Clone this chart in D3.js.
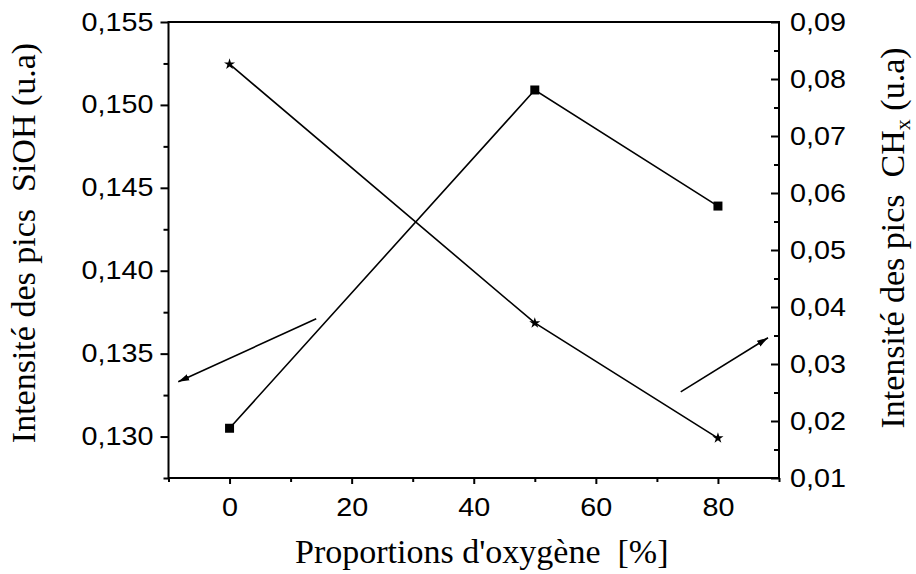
<!DOCTYPE html>
<html>
<head>
<meta charset="utf-8">
<script src="https://cdn.jsdelivr.net/npm/d3@7/dist/d3.min.js"></script>
<style>
  html, body { margin: 0; padding: 0; background: #fff; }
  svg { display: block; }
  .tick text { font-family: "Liberation Sans", Arial, sans-serif; font-size: 25px; fill: #000; }
  .title { font-family: "Liberation Serif", "Times New Roman", serif; font-size: 34px; fill: #000; white-space: pre; }
</style>
</head>
<body>
<svg id="chart" width="916" height="574"></svg>
<script>
// Oxygen proportion in the gas mixture (%)
const oxygen = [0, 50, 80];
// SiOH peak intensity (left axis, a.u.)
const siohValues = [0.1305, 0.1509, 0.1439];
// CHx peak intensity (right axis, a.u.)
const chxValues = [0.0826, 0.0372, 0.0170];

// Axis ticks
const xMajorTicks = [0, 20, 40, 60, 80];
const xMinorTicks = [-10, 10, 30, 50, 70, 90];
const yLeftMajorTicks = [0.130, 0.135, 0.140, 0.145, 0.150, 0.155];
const yLeftMinorTicks = [0.1275, 0.1325, 0.1375, 0.1425, 0.1475, 0.1525];
const yRightMajorTicks = [0.01, 0.02, 0.03, 0.04, 0.05, 0.06, 0.07, 0.08, 0.09];
const yRightMinorTicks = [0.015, 0.025, 0.035, 0.045, 0.055, 0.065, 0.075, 0.085];

// Pointer arrows telling which series belongs to which axis (data units)
const leftArrow = { from: [14.2, 0.1371], to: [-8.4, 0.1333] };
const rightArrow = { from: [73.9, 0.0251], to: [88.2, 0.0346] };

const frame = { left: 168.5, right: 779, top: 22, bottom: 478 };
const svg = d3.select("#chart");

const x = d3.scaleLinear().domain([-10, 90]).range([frame.left, frame.right]);
const yL = d3.scaleLinear().domain([0.1275, 0.155]).range([frame.bottom, frame.top]);
const yR = d3.scaleLinear().domain([0.01, 0.09]).range([frame.bottom, frame.top]);

const fr = d3.formatLocale({ decimal: ",", thousands: ".", grouping: [3], currency: ["", ""] });
const fmt3 = fr.format(".3f");
const fmt2 = fr.format(".2f");

const stretch = "scale(1.15,1)";

function styleAxis(g) {
  g.select(".domain").remove();
  g.selectAll(".tick line").attr("stroke", "#000").attr("stroke-width", 2);
}

// Bottom axis
const gx = svg.append("g").attr("transform", `translate(0,${frame.bottom})`)
  .call(d3.axisBottom(x).tickValues(xMajorTicks).tickSize(6).tickPadding(14).tickFormat(d3.format("d")));
styleAxis(gx);
gx.selectAll(".tick text").attr("transform", stretch);
const gxm = svg.append("g").attr("transform", `translate(0,${frame.bottom})`)
  .call(d3.axisBottom(x).tickValues(xMinorTicks).tickSize(4).tickFormat(""));
styleAxis(gxm);

// Left axis (SiOH)
const gl = svg.append("g").attr("transform", `translate(${frame.left},0)`)
  .call(d3.axisLeft(yL).tickValues(yLeftMajorTicks).tickSize(8).tickPadding(5).tickFormat(fmt3));
styleAxis(gl);
gl.selectAll(".tick text").attr("transform", stretch);
const glm = svg.append("g").attr("transform", `translate(${frame.left},0)`)
  .call(d3.axisLeft(yL).tickValues(yLeftMinorTicks).tickSize(5).tickFormat(""));
styleAxis(glm);

// Right axis (CHx): ticks point into the plot, labels sit outside
const gr = svg.append("g").attr("transform", `translate(${frame.right},0)`)
  .call(d3.axisLeft(yR).tickValues(yRightMajorTicks).tickSize(8).tickFormat(fmt2));
styleAxis(gr);
gr.selectAll(".tick text").attr("x", 9.5).attr("text-anchor", "start").attr("transform", stretch);
const grm = svg.append("g").attr("transform", `translate(${frame.right},0)`)
  .call(d3.axisLeft(yR).tickValues(yRightMinorTicks).tickSize(5).tickFormat(""));
styleAxis(grm);

// Frame
svg.append("rect")
  .attr("x", frame.left).attr("y", frame.top)
  .attr("width", frame.right - frame.left).attr("height", frame.bottom - frame.top)
  .attr("fill", "none").attr("stroke", "#000").attr("stroke-width", 2);

// Series lines
const sioh = oxygen.map((o, i) => [o, siohValues[i]]);
const chx = oxygen.map((o, i) => [o, chxValues[i]]);

svg.append("path").datum(sioh)
  .attr("d", d3.line().x(d => x(d[0])).y(d => yL(d[1])))
  .attr("fill", "none").attr("stroke", "#000").attr("stroke-width", 1.6);
svg.append("path").datum(chx)
  .attr("d", d3.line().x(d => x(d[0])).y(d => yR(d[1])))
  .attr("fill", "none").attr("stroke", "#000").attr("stroke-width", 1.6);

// Markers
svg.selectAll(".sq").data(sioh).join("path")
  .attr("class", "sq")
  .attr("transform", d => `translate(${x(d[0])},${yL(d[1])})`)
  .attr("d", d3.symbol(d3.symbolSquare, 81)())
  .attr("fill", "#000");
svg.selectAll(".st").data(chx).join("path")
  .attr("class", "st")
  .attr("transform", d => `translate(${x(d[0])},${yR(d[1])})`)
  .attr("d", d3.symbol(d3.symbolStar, 38)())
  .attr("fill", "#000");

// Arrowhead
svg.append("defs").append("marker")
  .attr("id", "head").attr("viewBox", "0 0 10 6")
  .attr("refX", 10).attr("refY", 3)
  .attr("markerWidth", 11).attr("markerHeight", 7)
  .attr("markerUnits", "userSpaceOnUse")
  .attr("orient", "auto")
  .append("path").attr("d", "M0,0 L10,3 L0,6 Z").attr("fill", "#000");

svg.append("line")
  .attr("x1", x(leftArrow.from[0])).attr("y1", yL(leftArrow.from[1]))
  .attr("x2", x(leftArrow.to[0])).attr("y2", yL(leftArrow.to[1]))
  .attr("stroke", "#000").attr("stroke-width", 1.6).attr("marker-end", "url(#head)");
svg.append("line")
  .attr("x1", x(rightArrow.from[0])).attr("y1", yR(rightArrow.from[1]))
  .attr("x2", x(rightArrow.to[0])).attr("y2", yR(rightArrow.to[1]))
  .attr("stroke", "#000").attr("stroke-width", 1.6).attr("marker-end", "url(#head)");

// Axis titles
svg.append("text").attr("class", "title")
  .attr("x", (frame.left + frame.right) / 2 + 8).attr("y", 563)
  .attr("text-anchor", "middle")
  .text("Proportions d'oxygène  [%]");

svg.append("text").attr("class", "title")
  .attr("transform", "translate(35,243) rotate(-90)")
  .attr("text-anchor", "middle")
  .text("Intensité des pics  SiOH (u.a)");

const rt = svg.append("text").attr("class", "title")
  .attr("transform", "translate(904,238) rotate(-90)")
  .attr("text-anchor", "middle");
rt.append("tspan").text("Intensité des pics  CH");
rt.append("tspan").attr("font-size", "22px").attr("dy", 6).text("x");
rt.append("tspan").attr("dy", -6).text(" (u.a)");
</script>
</body>
</html>
